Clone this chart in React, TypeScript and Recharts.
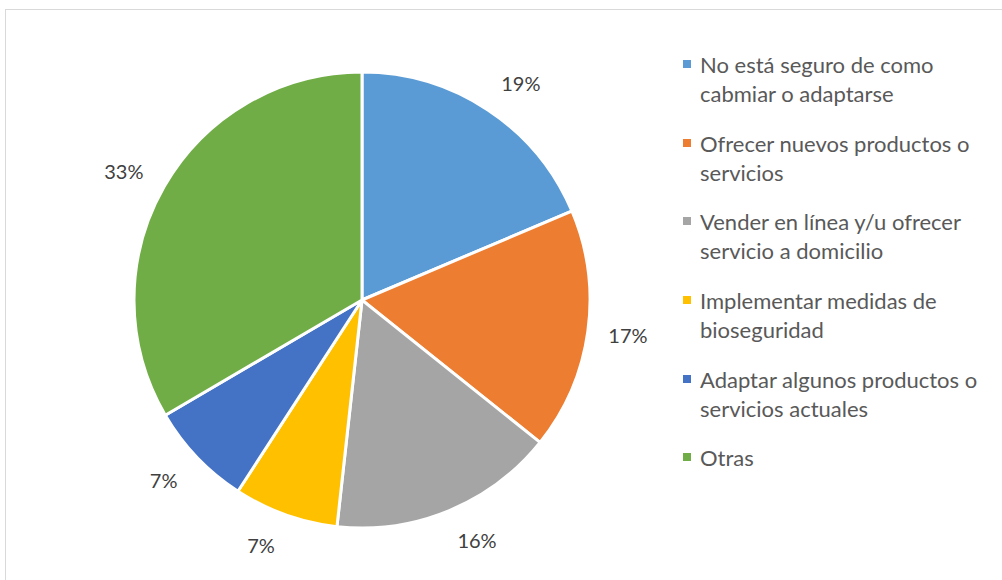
import React from "react";
import { PieChart, Pie, Cell, Legend } from "recharts";

const categories = [
  "No está seguro de como cabmiar o adaptarse",
  "Ofrecer nuevos productos o servicios",
  "Vender en línea y/u ofrecer servicio a domicilio",
  "Implementar medidas de bioseguridad",
  "Adaptar algunos productos o servicios actuales",
  "Otras",
];
const values = [18.6, 17.1, 16.0, 7.4, 7.4, 33.4];
const percentLabels = ["19%", "17%", "16%", "7%", "7%", "33%"];
const colors = ["#5B9BD5", "#ED7D31", "#A5A5A5", "#FFC000", "#4472C4", "#70AD47"];

const data = categories.map((name, i) => ({ name, value: values[i], label: percentLabels[i] }));

const FONT = "Lato, 'Open Sans', sans-serif";
const RAD = Math.PI / 180;

const renderLabel = (props: any) => {
  const { cx, cy, midAngle, outerRadius, index } = props;
  const s = Math.cos(-midAngle * RAD);
  const c = Math.sin(-midAngle * RAD);
  const r = outerRadius + 22;
  const w = percentLabels[index].length * 11;
  const h = 20;
  const x = cx + r * s + (w / 2) * s + 14 * Math.sign(s) * Math.abs(c);
  const y = cy + r * c + (h / 2) * c;
  return (
    <text x={x} y={y} fill="#404040" fontSize={20} fontFamily={FONT} textAnchor="middle" dominantBaseline="central">
      {percentLabels[index]}
    </text>
  );
};

const renderLegend = () => (
  <div style={{ fontFamily: FONT, fontSize: 22, color: "#595959", lineHeight: "29px" }}>
    {categories.map((c, i) => (
      <div key={c} style={{ position: "relative", paddingLeft: 20, marginBottom: 20.7 }}>
        <span
          style={{
            position: "absolute",
            left: 3,
            top: 10,
            width: 8,
            height: 8,
            background: colors[i],
          }}
        />
        {c}
      </div>
    ))}
  </div>
);

export default function App() {
  return (
    <div style={{ position: "absolute", left: 0, top: 0, width: 1002, height: 580, background: "#fff", overflow: "hidden" }}>
      <div
        style={{
          position: "absolute",
          left: 5,
          top: 9,
          width: 1010,
          height: 600,
          border: "1px solid #d9d9d9",
          boxSizing: "border-box",
        }}
      />
      <div style={{ position: "absolute", left: 0, top: 0 }}>
        <PieChart width={1002} height={580}>
          <Pie
            data={data}
            dataKey="value"
            nameKey="name"
            cx={357}
            cy={295}
            outerRadius={228}
            startAngle={90}
            endAngle={-270}
            stroke="#ffffff"
            strokeWidth={3}
            label={renderLabel}
            labelLine={false}
            isAnimationActive={false}
          >
            {data.map((d, i) => (
              <Cell key={d.name} fill={colors[i]} />
            ))}
          </Pie>
          <Legend
            layout="vertical"
            verticalAlign="top"
            align="right"
            content={renderLegend}
            wrapperStyle={{ left: 680, top: 50, width: 305 }}
          />
        </PieChart>
      </div>
    </div>
  );
}
